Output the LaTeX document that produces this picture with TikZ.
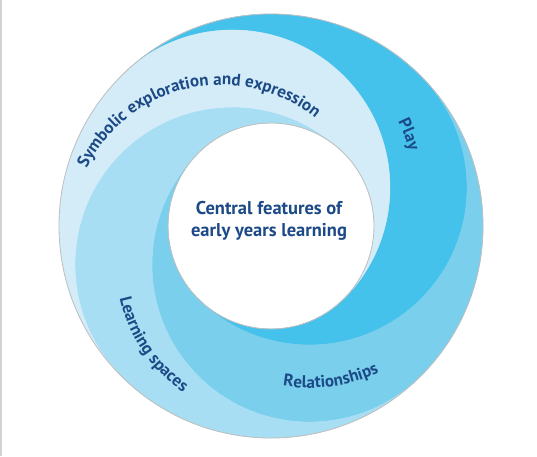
\documentclass[tikz,border=0pt]{standalone}
\usepackage{fontspec}
\setmainfont{PT Sans}
\usepackage{tikz}
\usetikzlibrary{decorations.text}

\definecolor{playblue}{RGB}{69,194,235}
\definecolor{relblue}{RGB}{122,207,237}
\definecolor{learnblue}{RGB}{168,222,243}
\definecolor{symblue}{RGB}{212,236,248}
\definecolor{navy}{RGB}{28,74,134}
\newcommand\lbl{\fontsize{17}{20}\selectfont\bfseries}

\begin{document}
\begin{tikzpicture}[x=1pt,y=1pt,
  ringline/.style={draw=gray!50,line width=0.8pt},
  curved/.style={decorate,decoration={text along path,text align=center,text color=navy}}]
\fill[white] (0,0) rectangle (537,456);
\useasboundingbox (0,0) rectangle (537,456);
\draw[gray!35,line width=1.5pt] (0.75,0) -- (0.75,456);
\def\Rout{212}
\def\Rin{103}
\def\Rband{157.5}
\coordinate (O) at (271,230);
% the four swirl bands
\foreach \t/\c in {135/playblue,45/relblue,-45/learnblue,225/symblue}{
  \fill[\c,draw=\c,line width=0.4pt] (O) ++(\t:\Rout)
    arc[start angle=\t,end angle=\t-90,radius=\Rout]
    arc[start angle=\t-90,end angle=\t-270,radius=\Rband]
    arc[start angle=\t-270,end angle=\t-180,radius=\Rin]
    arc[start angle=\t-180,end angle=\t,radius=\Rband];
}
\draw[ringline] (O) circle[radius=\Rout];
\draw[ringline] (O) circle[radius=\Rin];
% labels
\coordinate (symc) at (221,221);
\coordinate (playc) at (271,268.5);
\coordinate (relc) at (309.5,230);
\coordinate (learnc) at (271,191.5);
\path[curved,decoration={text={|\lbl|Symbolic exploration and expression}}]
  (symc) ++(165:150) arc[start angle=165,end angle=39.6,radius=150];
\path[curved,decoration={text={|\lbl|Play}}]
  (playc) ++(40:143) arc[start angle=40,end angle=2,radius=143];
\path[curved,decoration={text={|\lbl|Relationships}}]
  (relc) ++(-117:162) arc[start angle=-117,end angle=-47,radius=162];
\path[curved,decoration={text={|\lbl|Learning spaces}}]
  (learnc) ++(174:155) arc[start angle=174,end angle=254,radius=155];
\node[align=center,text=navy,font=\fontsize{18.5}{21.7}\selectfont\bfseries] (title) at (269,235)
  {Central features of\\early years learning};
\end{tikzpicture}
\end{document}
